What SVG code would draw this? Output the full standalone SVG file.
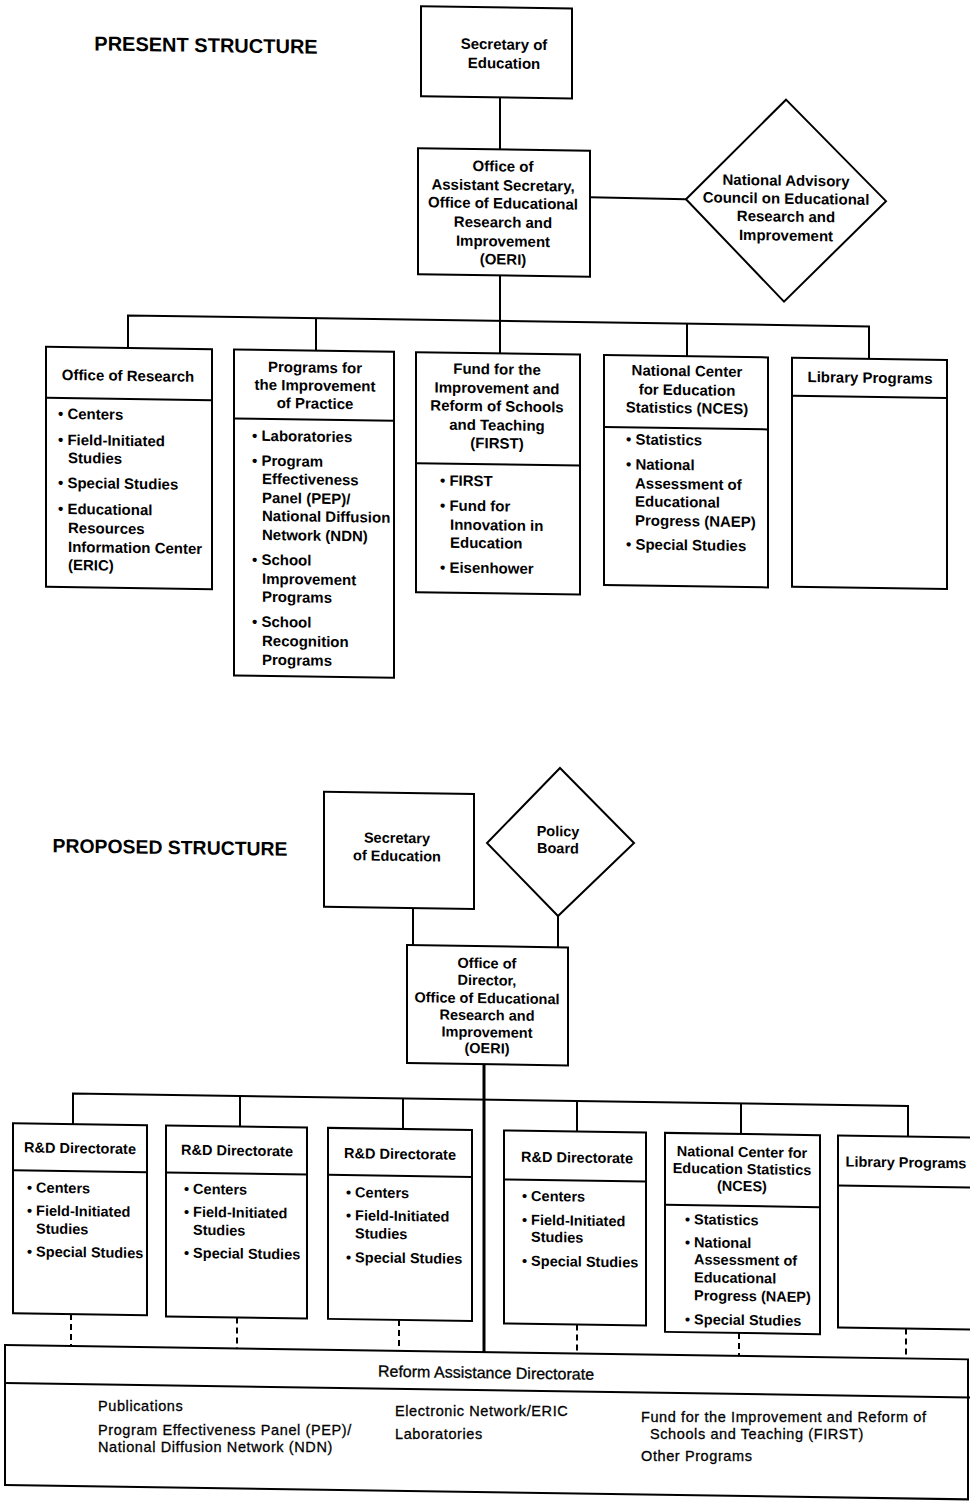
<svg xmlns="http://www.w3.org/2000/svg" width="970" height="1501" viewBox="0 0 970 1501">
<style>
.bx{fill:#fff;stroke:#000;stroke-width:2}
.ln{stroke:#000;stroke-width:2;fill:none}
.thk{stroke-width:3}
.dsh{stroke-dasharray:6 4}
text{font-family:"Liberation Sans",Arial,Helvetica,sans-serif;font-weight:bold;font-size:15px;fill:#000}
.c{text-anchor:middle}
.p{font-size:14.5px}
.h{font-size:20px}
.h2{font-size:19.4px}
.r{font-weight:normal;font-size:14.5px;letter-spacing:0.6px;stroke:#000;stroke-width:0.3}
.rt{font-size:16px;letter-spacing:0}
</style>
<rect width="970" height="1501" fill="#fff"/>
<g transform="skewY(0.85)">
<g id="connectors">
<line class="ln" x1="500" y1="90" x2="500" y2="142"/>
<line class="ln" x1="590" y1="188.5" x2="686" y2="189"/>
<line class="ln" x1="500" y1="268" x2="500" y2="346"/>
<polyline class="ln" points="128,346 128,313.5 869,313.5 869,346"/>
<line class="ln" x1="316" y1="313.5" x2="316" y2="346"/>
<line class="ln" x1="687" y1="313.5" x2="687" y2="346"/>
<line class="ln" x1="413" y1="902" x2="413" y2="939"/>
<line class="ln" x1="558" y1="907.7" x2="558" y2="939"/>
<line class="ln thk" x1="484" y1="1057" x2="484" y2="1345"/>
<polyline class="ln" points="73,1123 73,1092.5 908,1092.5 908,1123"/>
<line class="ln" x1="240" y1="1092.5" x2="240" y2="1123"/>
<line class="ln" x1="403" y1="1092.5" x2="403" y2="1123"/>
<line class="ln" x1="577" y1="1092.5" x2="577" y2="1123"/>
<line class="ln" x1="741" y1="1092.5" x2="741" y2="1123"/>
<line class="ln dsh" x1="71" y1="1313" x2="71" y2="1345"/>
<line class="ln dsh" x1="237" y1="1314" x2="237" y2="1345"/>
<line class="ln dsh" x1="399" y1="1314" x2="399" y2="1345"/>
<line class="ln dsh" x1="577" y1="1316" x2="577" y2="1345"/>
<line class="ln dsh" x1="739" y1="1322" x2="739" y2="1345"/>
<line class="ln dsh" x1="906" y1="1315" x2="906" y2="1345"/>
</g>

<text id="title-present" class="h c" x="206" y="49">PRESENT STRUCTURE</text>

<g id="secretary-present" transform="translate(421,0)">
<rect class="bx" x="0" y="0" width="151" height="90"/>
<text class="c" x="83" y="42">Secretary of</text>
<text class="c" x="83" y="61">Education</text>
</g>

<g id="oeri-present" transform="translate(418,142)">
<rect class="bx" x="0" y="0" width="172" height="126"/>
<text class="c" x="85" y="22">Office of</text>
<text class="c" x="85" y="41">Assistant Secretary,</text>
<text class="c" x="85" y="59">Office of Educational</text>
<text class="c" x="85" y="78">Research and</text>
<text class="c" x="85" y="97">Improvement</text>
<text class="c" x="85" y="115">(OERI)</text>
</g>

<g id="advisory-council">
<polygon class="bx" points="686,189 786,88 886,188 784,290"/>
<text class="c" x="786" y="174">National Advisory</text>
<text class="c" x="786" y="192">Council on Educational</text>
<text class="c" x="786" y="210">Research and</text>
<text class="c" x="786" y="229">Improvement</text>
</g>

<g id="office-of-research" transform="translate(46,346)">
<rect class="bx" x="0" y="0" width="166" height="240"/>
<line class="ln" x1="0" y1="51" x2="166" y2="51"/>
<text class="c" x="82" y="33">Office of Research</text>
<text x="12" y="72">• Centers</text>
<text x="12" y="98">• Field-Initiated</text>
<text x="22" y="116">Studies</text>
<text x="12" y="141">• Special Studies</text>
<text x="12" y="167">• Educational</text>
<text x="22" y="186">Resources</text>
<text x="22" y="205">Information Center</text>
<text x="22" y="223">(ERIC)</text>
</g>

<g id="programs-improvement" transform="translate(234,346)">
<rect class="bx" x="0" y="0" width="160" height="326"/>
<line class="ln" x1="0" y1="69" x2="160" y2="69"/>
<text class="c" x="81" y="22">Programs for</text>
<text class="c" x="81" y="40">the Improvement</text>
<text class="c" x="81" y="58">of Practice</text>
<text x="18" y="91">• Laboratories</text>
<text x="18" y="116">• Program</text>
<text x="28" y="134">Effectiveness</text>
<text x="28" y="153">Panel (PEP)/</text>
<text x="28" y="171">National Diffusion</text>
<text x="28" y="190">Network (NDN)</text>
<text x="18" y="215">• School</text>
<text x="28" y="234">Improvement</text>
<text x="28" y="252">Programs</text>
<text x="18" y="277">• School</text>
<text x="28" y="296">Recognition</text>
<text x="28" y="315">Programs</text>
</g>

<g id="first-present" transform="translate(416,346)">
<rect class="bx" x="0" y="0" width="164" height="240"/>
<line class="ln" x1="0" y1="111" x2="164" y2="111"/>
<text class="c" x="81" y="21">Fund for the</text>
<text class="c" x="81" y="40">Improvement and</text>
<text class="c" x="81" y="58">Reform of Schools</text>
<text class="c" x="81" y="77">and Teaching</text>
<text class="c" x="81" y="95">(FIRST)</text>
<text x="24" y="133">• FIRST</text>
<text x="24" y="158">• Fund for</text>
<text x="34" y="177">Innovation in</text>
<text x="34" y="195">Education</text>
<text x="24" y="220">• Eisenhower</text>
</g>

<g id="nces-present" transform="translate(604,346)">
<rect class="bx" x="0" y="0" width="164" height="230"/>
<line class="ln" x1="0" y1="72" x2="164" y2="72"/>
<text class="c" x="83" y="20">National Center</text>
<text class="c" x="83" y="39">for Education</text>
<text class="c" x="83" y="57">Statistics (NCES)</text>
<text x="22" y="89">• Statistics</text>
<text x="22" y="114">• National</text>
<text x="31" y="133">Assessment of</text>
<text x="31" y="151">Educational</text>
<text x="31" y="170">Progress (NAEP)</text>
<text x="22" y="194">• Special Studies</text>
</g>

<g id="library-present" transform="translate(792,346)">
<rect class="bx" x="0" y="0" width="155" height="229"/>
<line class="ln" x1="0" y1="38" x2="155" y2="38"/>
<text class="c" x="78" y="24">Library Programs</text>
</g>

<text id="title-proposed" class="h2 c" x="170" y="851.5">PROPOSED STRUCTURE</text>

<g id="secretary-proposed" transform="translate(324,787)">
<rect class="bx" x="0" y="0" width="150" height="115"/>
<text class="c p" x="73" y="50">Secretary</text>
<text class="c p" x="73" y="68">of Education</text>
</g>

<g id="policy-board">
<polygon class="bx" points="560,759.7 634,833.6 558,907.7 487,835.8"/>
<text class="c p" x="558" y="828">Policy</text>
<text class="c p" x="558" y="845">Board</text>
</g>

<g id="oeri-proposed" transform="translate(407,939)">
<rect class="bx" x="0" y="0" width="161" height="118"/>
<text class="c p" x="80" y="22">Office of</text>
<text class="c p" x="80" y="39">Director,</text>
<text class="c p" x="80" y="57">Office of Educational</text>
<text class="c p" x="80" y="74">Research and</text>
<text class="c p" x="80" y="91">Improvement</text>
<text class="c p" x="80" y="107">(OERI)</text>
</g>

<g id="rd-directorate-1" transform="translate(13,1123)">
<rect class="bx" x="0" y="0" width="134" height="190"/>
<line class="ln" x1="0" y1="47" x2="134" y2="47"/>
<text class="c p" x="67" y="29">R&amp;D Directorate</text>
<text class="p" x="14" y="69">• Centers</text>
<text class="p" x="14" y="92">• Field-Initiated</text>
<text class="p" x="23" y="110">Studies</text>
<text class="p" x="14" y="133">• Special Studies</text>
</g>

<g id="rd-directorate-2" transform="translate(166,1123)">
<rect class="bx" x="0" y="0" width="141" height="191"/>
<line class="ln" x1="0" y1="47" x2="141" y2="47"/>
<text class="c p" x="71" y="29">R&amp;D Directorate</text>
<text class="p" x="18" y="68">• Centers</text>
<text class="p" x="18" y="91">• Field-Initiated</text>
<text class="p" x="27" y="109">Studies</text>
<text class="p" x="18" y="132">• Special Studies</text>
</g>

<g id="rd-directorate-3" transform="translate(328,1123)">
<rect class="bx" x="0" y="0" width="144" height="191"/>
<line class="ln" x1="0" y1="47" x2="144" y2="47"/>
<text class="c p" x="72" y="30">R&amp;D Directorate</text>
<text class="p" x="18" y="69">• Centers</text>
<text class="p" x="18" y="92">• Field-Initiated</text>
<text class="p" x="27" y="110">Studies</text>
<text class="p" x="18" y="134">• Special Studies</text>
</g>

<g id="rd-directorate-4" transform="translate(504,1123)">
<rect class="bx" x="0" y="0" width="142" height="193"/>
<line class="ln" x1="0" y1="49" x2="142" y2="49"/>
<text class="c p" x="73" y="31">R&amp;D Directorate</text>
<text class="p" x="18" y="70">• Centers</text>
<text class="p" x="18" y="94">• Field-Initiated</text>
<text class="p" x="27" y="111">Studies</text>
<text class="p" x="18" y="135">• Special Studies</text>
</g>

<g id="nces-proposed" transform="translate(665,1123)">
<rect class="bx" x="0" y="0" width="155" height="199"/>
<line class="ln" x1="0" y1="72" x2="155" y2="72"/>
<text class="c p" x="77" y="23">National Center for</text>
<text class="c p" x="77" y="40">Education Statistics</text>
<text class="c p" x="77" y="57">(NCES)</text>
<text class="p" x="20" y="91">• Statistics</text>
<text class="p" x="20" y="114">• National</text>
<text class="p" x="29" y="131">Assessment of</text>
<text class="p" x="29" y="149">Educational</text>
<text class="p" x="29" y="167">Progress (NAEP)</text>
<text class="p" x="20" y="191">• Special Studies</text>
</g>

<g id="library-proposed" transform="translate(838,1123)">
<rect class="bx" x="0" y="0" width="137" height="192"/>
<line class="ln" x1="0" y1="50" x2="137" y2="50"/>
<text class="c p" x="68" y="31">Library Programs</text>
</g>

<g id="reform-assistance-box" transform="translate(5,1345)">
<rect class="bx" x="0" y="0" width="963" height="140"/>
<line class="ln" x1="0" y1="38" x2="965" y2="38"/>
<text class="c r rt" x="481" y="26">Reform Assistance Directorate</text>
</g>
</g>

<g id="reform-assistance-items">
<text class="r" x="98" y="1410.5">Publications</text>
<text class="r" x="98" y="1434.5">Program Effectiveness Panel (PEP)/</text>
<text class="r" x="98" y="1451.5">National Diffusion Network (NDN)</text>
<text class="r" x="395" y="1416">Electronic Network/ERIC</text>
<text class="r" x="395" y="1439">Laboratories</text>
<text class="r" x="641" y="1421.5">Fund for the Improvement and Reform of</text>
<text class="r" x="650" y="1439">Schools and Teaching (FIRST)</text>
<text class="r" x="641" y="1461">Other Programs</text>
</g>
</svg>
